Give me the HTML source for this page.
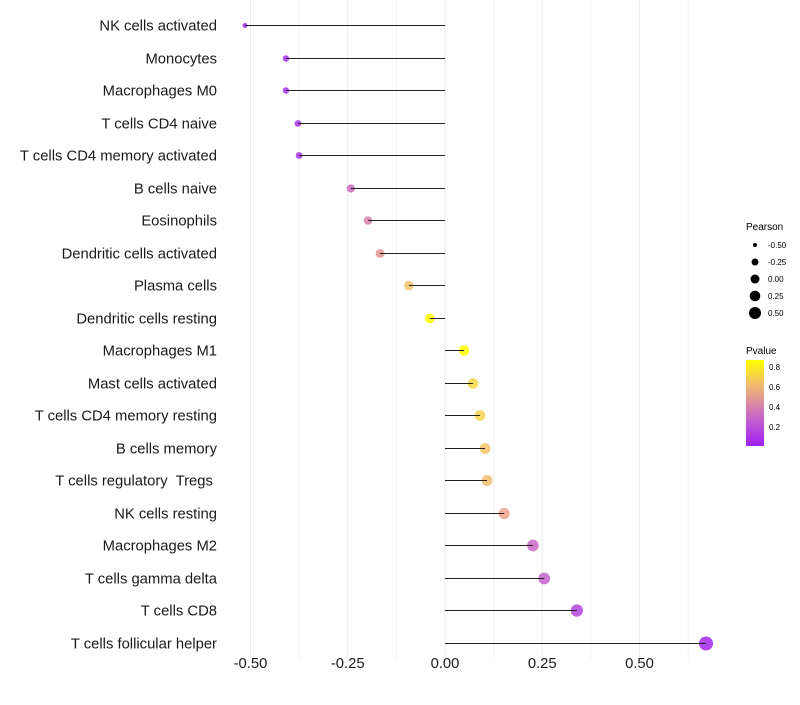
<!DOCTYPE html>
<html><head><meta charset="utf-8"><style>
body{margin:0;background:#fff;font-family:"Liberation Sans",sans-serif}
svg text{font-family:"Liberation Sans",sans-serif;white-space:pre}
</style></head><body>
<svg id="chart" width="800" height="700" xmlns="http://www.w3.org/2000/svg">
<defs><linearGradient id="pg" x1="0" y1="1" x2="0" y2="0">
<stop offset="0" stop-color="#A020F0"/><stop offset="0.3" stop-color="#C25FD0"/><stop offset="0.5" stop-color="#DC8AA0"/><stop offset="0.72" stop-color="#F2BD6A"/><stop offset="1" stop-color="#FFFF00"/></linearGradient></defs>
<g id="grid"></g>
<g id="dots"></g>
<g id="marks"></g>
<g id="ylabels"></g>
<g id="xlabels"></g>
<g id="sleg">
<text x="746" y="230" font-size="10">Pearson</text>
</g>
<g>
<text x="746" y="354" font-size="10">Pvalue</text>
<rect x="746" y="360" width="18" height="86" fill="url(#pg)"/>
<text x="769" y="370" font-size="8">0.8</text>
<text x="769" y="390" font-size="8">0.6</text>
<text x="769" y="410" font-size="8">0.4</text>
<text x="769" y="430" font-size="8">0.2</text>
</g>
</svg>
<script>
const categories=["NK cells activated","Monocytes","Macrophages M0","T cells CD4 naive","T cells CD4 memory activated","B cells naive","Eosinophils","Dendritic cells activated","Plasma cells","Dendritic cells resting","Macrophages M1","Mast cells activated","T cells CD4 memory resting","B cells memory","T cells regulatory  Tregs ","NK cells resting","Macrophages M2","T cells gamma delta","T cells CD8","T cells follicular helper"];
const pearson=[-0.514,-0.409,-0.409,-0.378,-0.375,-0.242,-0.198,-0.167,-0.093,-0.039,0.049,0.072,0.090,0.103,0.108,0.152,0.226,0.255,0.339,0.671];
const pvalue=[0.03,0.06,0.06,0.08,0.08,0.3,0.38,0.46,0.65,0.86,0.85,0.72,0.7,0.65,0.62,0.5,0.3,0.27,0.15,0.03];
const xTicks=[-0.5,-0.25,0,0.25,0.5];
const xTickLabels=["-0.50","-0.25","0.00","0.25","0.50"];
const sizeLegend=[-0.5,-0.25,0,0.25,0.5];
const sizeLegendLabels=["-0.50","-0.25","0.00","0.25","0.50"];
const NS="http://www.w3.org/2000/svg";
const x=v=>445+v*389;
const y=i=>Math.round(25+i*32.5)+0.5;
const r=v=>Math.sqrt(Math.max(1,20+32*v));
const stops=[[0,[160,32,240]],[0.26,[194,95,208]],[0.43,[222,140,150]],[0.52,[236,168,136]],[0.64,[242,192,106]],[0.86,[255,255,0]]];
function col(p){for(let i=1;i<stops.length;i++){if(p<=stops[i][0]){const a=stops[i-1],b=stops[i];const t=(p-a[0])/(b[0]-a[0]);return`rgb(${a[1].map((c,k)=>Math.round(c+(b[1][k]-c)*t)).join(",")})`;}}return"rgb(255,255,0)";}
function mk(tag,at,parent){const e=document.createElementNS(NS,tag);for(const k in at)e.setAttribute(k,at[k]);document.getElementById(parent).appendChild(e);return e;}
[-0.5,-0.375,-0.25,-0.125,0,0.125,0.25,0.375,0.5,0.625].forEach(v=>{
const g=mk("line",{x1:x(v),x2:x(v),y1:0,y2:660,stroke:"#ebebeb","stroke-width":Number.isInteger(v*4)?1:0.6},"grid");

});
categories.forEach((c,i)=>{
const d=mk("circle",{cx:x(pearson[i]),cy:y(i),r:r(pearson[i])+0.6,fill:col(pvalue[i]),"fill-opacity":0.85},"dots");


const l=mk("line",{x1:x(0),x2:x(pearson[i]),y1:y(i),y2:y(i),stroke:"#222","stroke-width":1},"marks");


const t=mk("text",{x:217,y:y(i)+5,"text-anchor":"end","font-size":14.8,fill:"#1a1a1a"},"ylabels");
t.textContent=c;

});
xTicks.forEach((v,i)=>{
const t=mk("text",{x:x(v),y:668,"text-anchor":"middle","font-size":14.8,fill:"#1a1a1a"},"xlabels");
t.textContent=xTickLabels[i];

});
sizeLegend.forEach((v,i)=>{
const cy=245+i*17;
const c=mk("circle",{cx:755,cy:cy,r:r(v),fill:"#000"},"sleg");


const t=mk("text",{x:768,y:cy+3,"font-size":8},"sleg");
t.textContent=sizeLegendLabels[i];

});
</script>
</body></html>
